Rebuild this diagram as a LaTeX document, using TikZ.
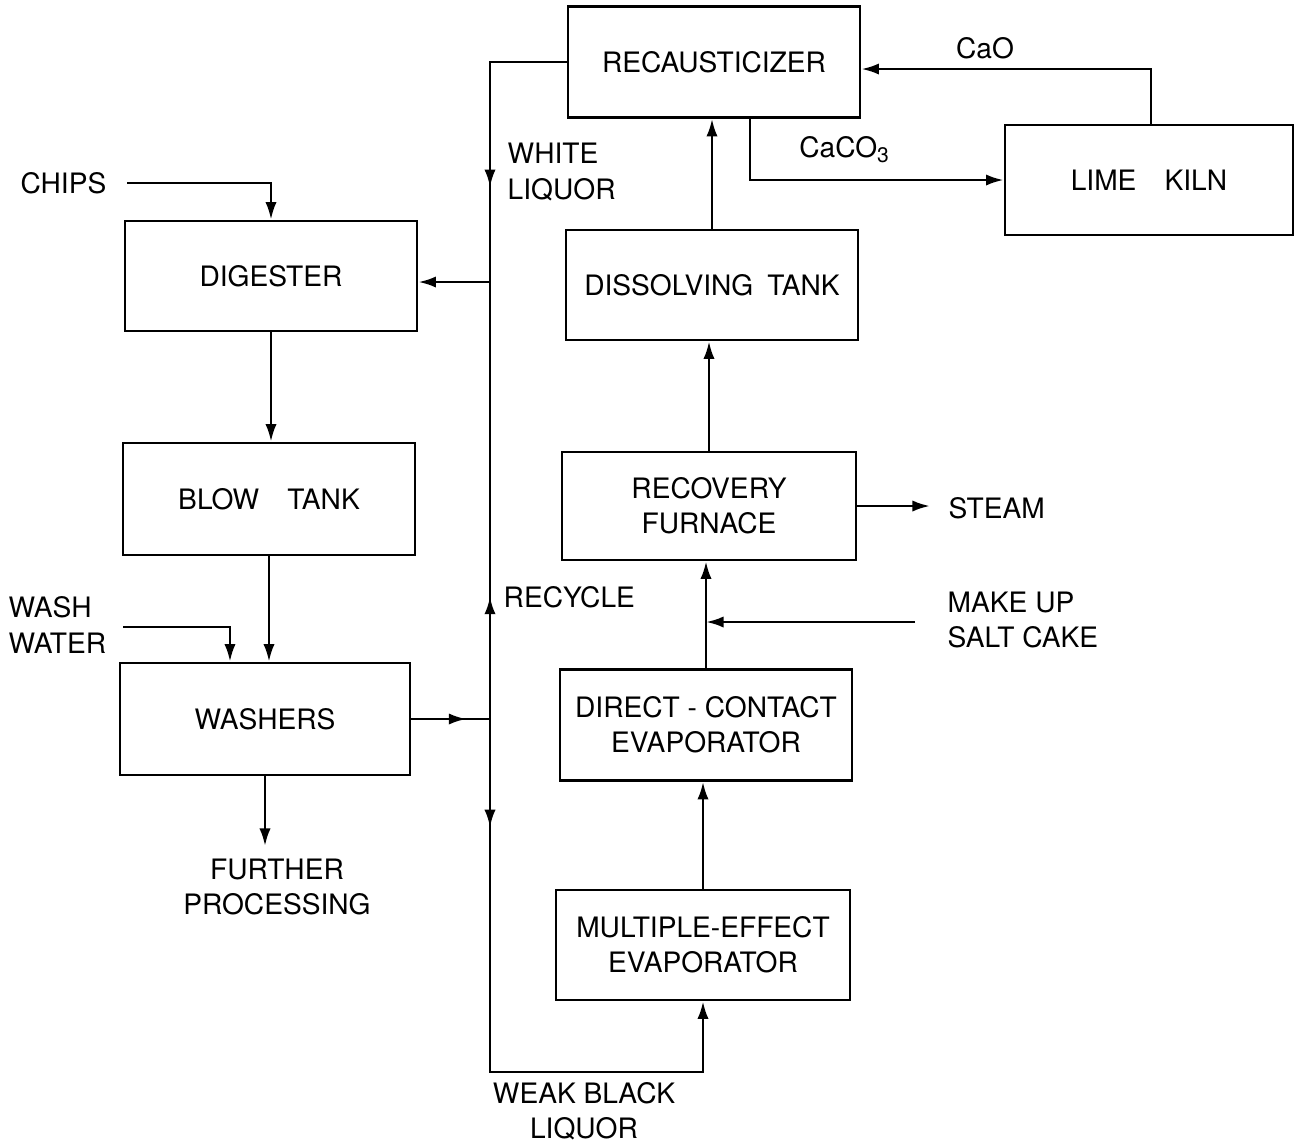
\documentclass[tikz,border=0pt]{standalone}
\usepackage{fontspec}
\setmainfont{TeX Gyre Heros}
\usetikzlibrary{arrows.meta, decorations.markings}

\begin{document}
\begin{tikzpicture}[
    x=0.01cm, y=-0.01cm,
    font=\fontsize{8}{10}\selectfont,
    unitbox/.style={draw, line width=0.75pt, minimum width=2.92cm, minimum height=1.1cm, align=center, inner sep=2pt},
    tag/.style={align=left, inner sep=0pt},
    flow/.style={line width=0.75pt},
    feed/.style={flow, -{Latex[length=5pt, width=3.2pt]}},
    midarrow/.style={flow, postaction={decorate}, decoration={markings, mark=at position #1 with {\arrow{Latex[length=5pt, width=3.2pt]}}}},
]
\useasboundingbox (0,0) rectangle (1302,1144);

% process units
\node[unitbox, minimum height=1.11cm] (recaus) at (714,62) {RECAUSTICIZER};
\node[unitbox, minimum width=2.88cm] (kiln) at (1149,180) {LIME\quad KILN};
\node[unitbox] (dig) at (271,276) {DIGESTER};
\node[unitbox, minimum height=1.12cm] (blow) at (269,499) {BLOW\quad TANK};
\node[unitbox, minimum width=2.9cm, minimum height=1.12cm] (wash) at (265,719) {WASHERS};
\node[unitbox] (dt) at (712,285) {DISSOLVING\enspace TANK};
\node[unitbox, minimum width=2.94cm, minimum height=1.08cm] (rf) at (709,506) {RECOVERY\\FURNACE};
\node[unitbox, minimum height=1.11cm] (dct) at (706,725) {DIRECT - CONTACT\\EVAPORATOR};
\node[unitbox, minimum width=2.94cm] (mee) at (703,945) {MULTIPLE-EFFECT\\EVAPORATOR};

% stream labels
\node[tag, anchor=east] (chips) at (107,183) {CHIPS};
\node[tag, anchor=west] (wwater) at (8,625) {WASH\\WATER};
\node[tag, align=center, anchor=north] (further) at (277,858) {FURTHER\\PROCESSING};
\node[tag, anchor=west] (wliq) at (507,172) {WHITE\\LIQUOR};
\node[tag, anchor=west] (recy) at (503,597) {RECYCLE};
\node[tag, align=center] (wbl) at (584,1111) {WEAK BLACK\\LIQUOR};
\node[tag, anchor=west] (steam) at (948,508) {STEAM};
\node[tag, anchor=west] (salt) at (947,620) {MAKE UP\\SALT CAKE};
\node[tag] (cao) at (985,48) {CaO};
\node[tag] (caco) at (845,150) {CaCO\textsubscript{3}};

% liquor trunk
\coordinate (jdig) at (490,282);
\coordinate (jwash) at (490,719);
\coordinate (bot) at (490,1072);
\coordinate (saltin) at (915,622);
\coordinate (wwin) at (123,627);

\draw[midarrow=0.68] (recaus.west) -| (jdig);
\draw[feed] (jdig) -- (jdig -| dig.east);
\draw[midarrow=0.28] (jwash) -- (jdig);
\draw[feed, midarrow=0.17] (jwash) -- (bot) -| (mee.south);
\draw[midarrow=0.7] (wash.east) -- (jwash);

% pulping line
\draw[feed] ([xshift=0.2cm]chips.east) -| (dig.north);
\draw[feed] (dig.south) -- (dig.south |- blow.north);
\draw[feed] (blow.south) -- (blow.south |- wash.north);
\draw[feed] (wwin) -| ([xshift=-0.35cm]wash.north);
\draw[feed] (wash.south) -- ([yshift=0.12cm]wash.south |- further.north);

% recovery line
\draw[feed] (mee.north) -- (mee.north |- dct.south);
\draw[feed] (dct.north) -- (dct.north |- rf.south);
\draw[feed] (saltin) -- (saltin -| dct.north);
\draw[feed] (rf.north) -- (rf.north |- dt.south);
\draw[feed] (dt.north) -- (dt.north |- recaus.south);
\draw[feed] (rf.east) -- ([xshift=-0.18cm]steam.west |- rf.east);
\draw[feed] ([xshift=0.36cm]recaus.south) |- (kiln.west);
\draw[feed] ([xshift=0.02cm]kiln.north) |- ([yshift=-0.07cm]recaus.east);

\end{tikzpicture}
\end{document}
